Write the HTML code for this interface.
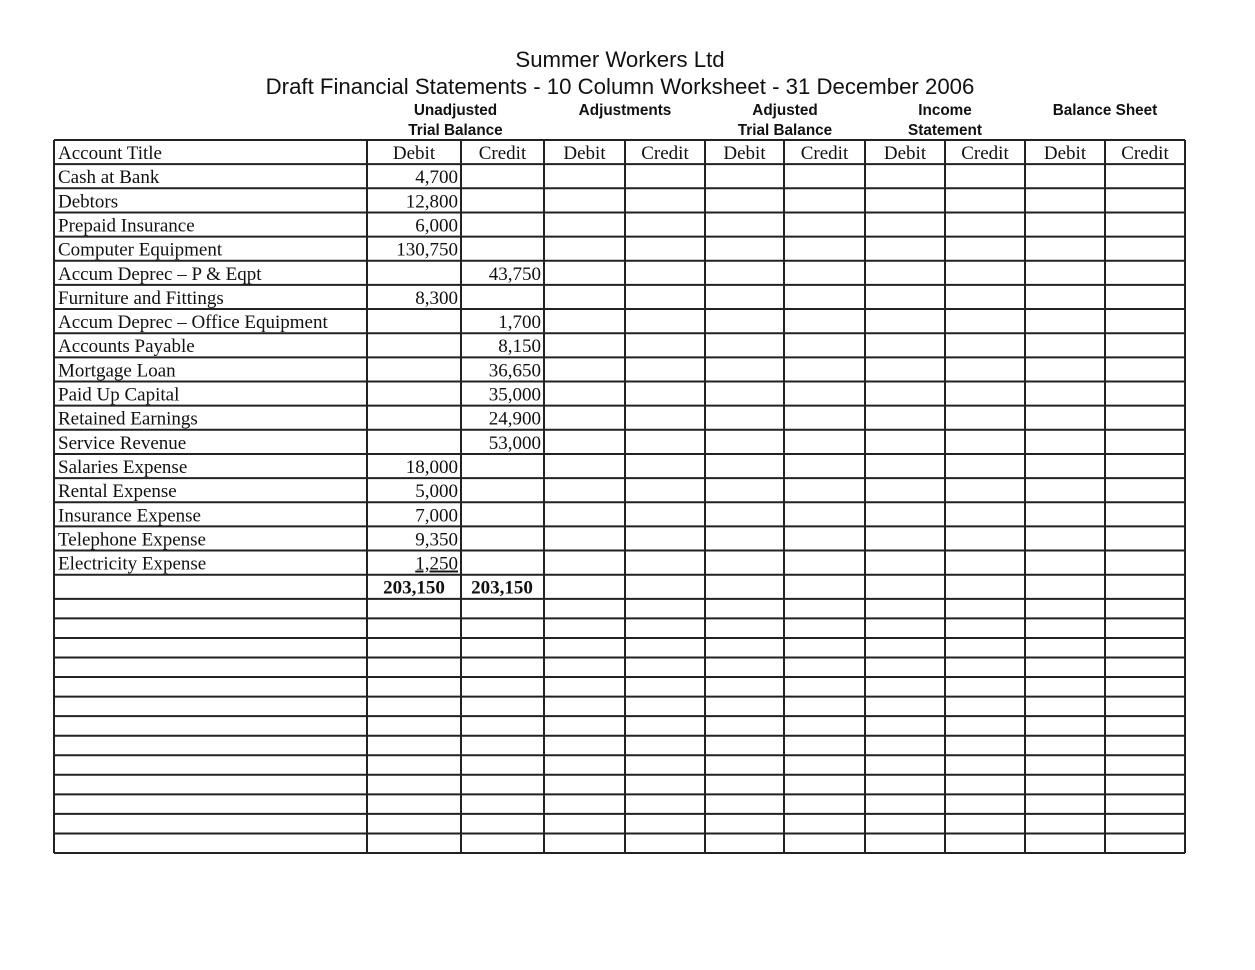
<!DOCTYPE html>
<html><head><style>
body{margin:0;width:1255px;height:970px;background:#fff;position:relative;overflow:hidden}
.t{position:absolute;font-family:"Liberation Sans",sans-serif;color:#111;text-align:center;white-space:nowrap}
svg{position:absolute;left:0;top:0}
svg text{font-family:"Liberation Serif",serif;font-size:19px;fill:#111}
</style></head><body>
<div class="t" style="left:0;width:1240px;top:47px;font-size:22.2px">Summer Workers Ltd</div>
<div class="t" style="left:0;width:1240px;top:74px;font-size:22.2px">Draft Financial Statements - 10 Column Worksheet - 31 December 2006</div>
<div class="t" style="left:367px;width:177px;top:101px;font-size:15.3px;font-weight:bold;line-height:20px">Unadjusted<br>Trial Balance</div>
<div class="t" style="left:545px;width:160px;top:101px;font-size:15.3px;font-weight:bold;line-height:20px">Adjustments</div>
<div class="t" style="left:705px;width:160px;top:101px;font-size:15.3px;font-weight:bold;line-height:20px">Adjusted<br>Trial Balance</div>
<div class="t" style="left:865px;width:160px;top:101px;font-size:15.3px;font-weight:bold;line-height:20px">Income<br>Statement</div>
<div class="t" style="left:1025px;width:160px;top:101px;font-size:15.3px;font-weight:bold;line-height:20px">Balance Sheet</div>
<svg width="1255" height="970" id="s"></svg>
<script>
var s=document.getElementById('s'),h='';
var xs=[54,367,461,544,625,705,784,865,945,1025,1105,1185];
var ys=[];for(var i=0;i<=19;i++)ys.push(140+i*24.15);
var last=ys[19];for(var i=1;i<=13;i++)ys.push(last+i*19.55);
var bot=ys[ys.length-1];
xs.forEach(function(x){h+='<line x1="'+x+'" y1="140" x2="'+x+'" y2="'+bot+'" stroke="#222" stroke-width="2"/>';});
ys.forEach(function(y){h+='<line x1="54" y1="'+y+'" x2="1185" y2="'+y+'" stroke="#222" stroke-width="2"/>';});
var hd=['Debit','Credit'];
for(var c=1;c<11;c++){h+='<text x="'+((xs[c]+xs[c+1])/2)+'" y="159" text-anchor="middle">'+hd[(c-1)%2]+'</text>';}
h+='<text x="58" y="159">Account Title</text>';
var rows=[["Cash at Bank","4,700",""],["Debtors","12,800",""],["Prepaid Insurance","6,000",""],["Computer Equipment","130,750",""],["Accum Deprec \u2013 P & Eqpt","","43,750"],["Furniture and Fittings","8,300",""],["Accum Deprec \u2013 Office Equipment","","1,700"],["Accounts Payable","","8,150"],["Mortgage Loan","","36,650"],["Paid Up Capital","","35,000"],["Retained Earnings","","24,900"],["Service Revenue","","53,000"],["Salaries Expense","18,000",""],["Rental Expense","5,000",""],["Insurance Expense","7,000",""],["Telephone Expense","9,350",""],["Electricity Expense","1,250",""]];
rows.forEach(function(r,i){var y=ys[i+1]+19;
h+='<text x="58" y="'+y+'">'+r[0].replace('&','&amp;')+'</text>';
if(r[1])h+='<text x="458" y="'+y+'" text-anchor="end"'+(i==16?' text-decoration="underline"':'')+'>'+r[1]+'</text>';
if(r[2])h+='<text x="541" y="'+y+'" text-anchor="end">'+r[2]+'</text>';});
var ty=ys[18]+19;
h+='<text x="414" y="'+ty+'" text-anchor="middle" font-weight="bold">203,150</text>';
h+='<text x="502" y="'+ty+'" text-anchor="middle" font-weight="bold">203,150</text>';
s.innerHTML=h;
</script>
</body></html>
